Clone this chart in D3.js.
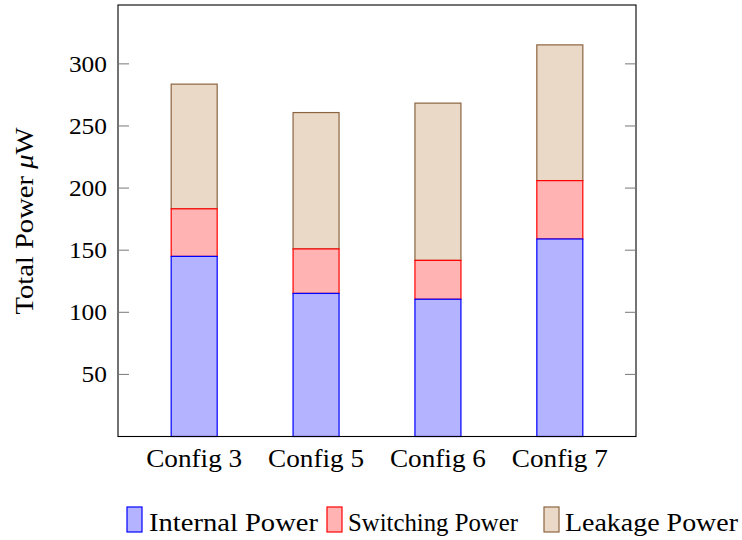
<!DOCTYPE html>
<html>
<head>
<meta charset="utf-8">
<script src="https://cdn.jsdelivr.net/npm/d3@7"></script>
<style>
  body { margin: 0; background: #fff; }
  text { font-family: "Liberation Serif", "Times New Roman", serif; fill: #000; }
</style>
</head>
<body>
<svg id="chart" width="742" height="540"></svg>
<script>
// data
const configs = ["Config 3", "Config 5", "Config 6", "Config 7"];
const internalPower = [145, 115.2, 110.5, 159];
const switchingPower = [38.3, 35.8, 31.3, 47];
const leakagePower = [100.4, 109.8, 126.6, 109.3];
const yTicks = [50, 100, 150, 200, 250, 300];

const seriesNames = ["Internal Power", "Switching Power", "Leakage Power"];
const fills = ["#b3b3ff", "#ffb3b3", "#ead9c6"];
const strokes = ["#0000ff", "#ff0000", "#8c6440"];

const plotLeft = 118, plotRight = 636, plotTop = 5, plotBottom = 436.5;
const barWidth = 46;
const fontSize = "24.5px";

const svg = d3.select("#chart");

const x = d3.scalePoint().domain(configs).range([plotLeft, plotRight]).padding(0.625);
const y = d3.scaleLinear().domain([0, 347.4]).range([plotBottom, plotTop]);

// stacked table
const table = configs.map((c, i) => ({
  config: c,
  "Internal Power": internalPower[i],
  "Switching Power": switchingPower[i],
  "Leakage Power": leakagePower[i]
}));
const stacked = d3.stack().keys(seriesNames)(table);

// bars: draw upper layers first so lower borders stay visible
const layers = svg.append("g").attr("class", "bars");
stacked.slice().reverse().forEach(layer => {
  const k = seriesNames.indexOf(layer.key);
  layers.append("g")
    .selectAll("rect")
    .data(layer)
    .join("rect")
    .attr("x", d => x(d.data.config) - barWidth / 2)
    .attr("y", d => y(d[1]))
    .attr("width", barWidth)
    .attr("height", d => y(d[0]) - y(d[1]))
    .style("fill", fills[k])
    .style("stroke", strokes[k])
    .style("stroke-width", 1.2);
});

// frame
svg.append("rect")
  .attr("x", plotLeft).attr("y", plotTop)
  .attr("width", plotRight - plotLeft).attr("height", plotBottom - plotTop)
  .style("fill", "none").style("stroke", "#000").style("stroke-width", 1.1);

// y ticks on both sides, pointing inward
const tickLen = 11;
const tg = svg.append("g").attr("class", "y ticks");
tg.selectAll("line.l").data(yTicks).join("line").attr("class", "l")
  .attr("x1", plotLeft).attr("x2", plotLeft + tickLen)
  .attr("y1", d => y(d)).attr("y2", d => y(d))
  .style("stroke", "#777").style("stroke-width", 1);
tg.selectAll("line.r").data(yTicks).join("line").attr("class", "r")
  .attr("x1", plotRight - tickLen).attr("x2", plotRight)
  .attr("y1", d => y(d)).attr("y2", d => y(d))
  .style("stroke", "#777").style("stroke-width", 1);
tg.selectAll("text").data(yTicks).join("text")
  .attr("x", 107).attr("y", d => y(d) + 8)
  .attr("text-anchor", "end")
  .style("font-size", "23px")
  .attr("textLength", d => String(d).length * 12.7)
  .attr("lengthAdjust", "spacingAndGlyphs")
  .text(d => d);

// x labels
svg.append("g").selectAll("text").data(configs).join("text")
  .attr("x", d => x(d)).attr("y", 467)
  .attr("text-anchor", "middle")
  .style("font-size", fontSize)
  .attr("textLength", 96)
  .attr("lengthAdjust", "spacingAndGlyphs")
  .text(d => d);

// y axis title
const yt = svg.append("text")
  .attr("transform", "translate(33,221) rotate(-90)")
  .attr("text-anchor", "middle")
  .style("font-size", fontSize)
  .attr("textLength", 187)
  .attr("lengthAdjust", "spacingAndGlyphs");
yt.append("tspan").text("Total Power ");
yt.append("tspan").style("font-style", "italic").text("μ");
yt.append("tspan").text("W");

// legend
const legendItems = [
  { name: seriesNames[0], bx: 127, tx: 149, w: 169 },
  { name: seriesNames[1], bx: 327, tx: 348, w: 170 },
  { name: seriesNames[2], bx: 544, tx: 565, w: 173 }
];
const lg = svg.append("g").attr("class", "legend");
legendItems.forEach((it, i) => {
  lg.append("rect")
    .attr("x", it.bx).attr("y", 507)
    .attr("width", 15).attr("height", 25)
    .style("fill", fills[i]).style("stroke", strokes[i]).style("stroke-width", 1.2);
  lg.append("text")
    .attr("x", it.tx).attr("y", 531)
    .style("font-size", fontSize)
    .attr("textLength", it.w)
    .attr("lengthAdjust", "spacingAndGlyphs")
    .text(it.name);
});
</script>
</body>
</html>
